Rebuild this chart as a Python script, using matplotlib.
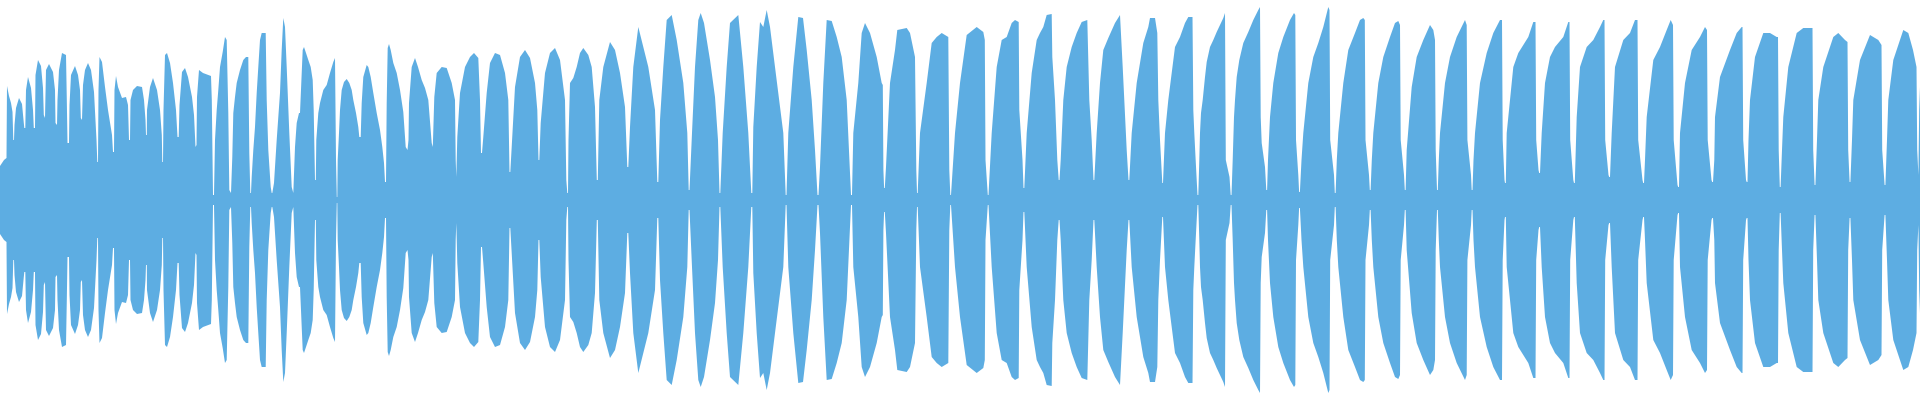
import matplotlib
matplotlib.use("Agg")
import matplotlib.pyplot as plt
import numpy as np

# waveform peak envelope, one line per lobe (position in samples, peak amplitude)
pos = [
    0, 4, 6.5, 7, 9, 11, 12.5, 13.3, 14,
    14.5, 16, 19, 22, 23.7, 24.3, 25.3,
    26, 28, 31, 33, 33.8, 35,
    35.5, 38, 41, 43, 43.8, 45,
    46, 49, 53, 55, 55.5, 57,
    57.5, 59, 62, 66, 66.8, 67.5, 69,
    69.5, 71, 75, 78, 80, 80.8, 82,
    83, 85, 88, 91, 94, 96.5, 97.3, 98,
    98.5, 99.5, 102, 105, 108, 112, 113, 114,
    114.5, 116, 118, 122, 126, 128, 129, 130,
    130.5, 133, 137, 142, 144, 145.5, 146, 146.8,
    147, 150, 153, 157, 160, 161.8, 162.3, 163,
    163.5, 165, 167, 170, 173, 176, 177.5, 178.7,
    179.5, 182, 185, 188, 192, 194, 195.5, 196.5,
    197, 199, 203, 211, 211.8, 213, 214,
    215, 216.7, 218.3, 220, 222.7, 225, 226.7, 228.3, 229.3, 231,
    232.3, 233.3, 235, 236.7, 240, 243.3, 246, 248.3, 249.3, 250.3, 251,
    251.7, 253.3, 255, 256.7, 258.3, 260, 261.7, 265.7, 266.7, 268.3, 270.7, 271.7, 272.3,
    274, 276.7, 280, 281.7, 283.3, 285, 286.7, 289.3, 291.7, 293.3,
    295, 296.7, 299, 300, 302.7, 304, 306, 308.3, 310.7, 312.7, 313.7, 315, 315.8,
    316.3, 318.3, 320, 323.3, 326.7, 330, 333.3, 335, 336, 336.8, 337.3,
    337.7, 339, 340, 341.7, 344, 346.7, 349.3, 351.7, 353.3, 356, 358.3, 359.3, 360.7,
    361.7, 363.3, 366.7, 368.3, 370.7, 373.3, 376.7, 380, 382.3, 384, 385, 386,
    386.7, 387.7, 389, 390.7, 393.3, 396.7, 400, 403.3, 405.7, 407.5,
    408.5, 409, 411.7, 415, 418, 421.7, 425, 428.3, 431.7, 432.8,
    434.3, 436.7, 441.7, 446.7, 451.7, 455, 455.7, 456.3,
    457.3, 460, 465, 470, 474, 478.3, 480, 481, 482,
    483.3, 486.7, 490, 495, 500, 505, 508.3, 509.5, 510.3,
    511.7, 515, 520, 525, 530, 535, 537.3, 538.5, 539.3,
    540.7, 545, 550, 555, 560, 565, 566.3, 567.3, 568,
    568.5, 570, 573.3, 576.7, 580, 583.3, 588.3, 591.7, 595, 596.8, 597.8,
    599.3, 603.3, 610, 615, 620, 625, 627.3, 628.3,
    630, 633.3, 638.3, 643.3, 648.3, 655, 657.3, 658.3,
    660, 663.3, 666.7, 671.7, 676.7, 683.3, 687.3, 688.7, 689.5,
    692, 695, 698.3, 700.7, 704, 710, 715, 718, 719.5, 720.3,
    722.7, 726.7, 730, 738.3, 743.3, 748.3, 751.3, 752.3,
    753.3, 756.7, 760, 763.3, 766.7, 770, 775, 783.3, 785.7, 786.5,
    788.3, 793.3, 798.3, 803, 806.7, 811.7, 815, 817.5, 818.5,
    820, 823.3, 826.7, 831.7, 836.7, 841.7, 846.7, 850, 851, 852,
    853.3, 858.3, 861.7, 865, 870, 876.7, 881.7, 882.8, 883.4, 884.1, 884.8,
    886, 890, 895, 897.3, 906.7, 910, 915, 916.3, 917, 917.7,
    920, 926.7, 931.7, 936.7, 941.7, 948.3, 949.3, 950.3, 951,
    955, 960, 966.7, 976.7, 983.3, 984.8, 985.5, 987.8, 988.5,
    991.7, 996.7, 1001.7, 1006.7, 1011.7, 1015, 1018.7, 1019.3, 1022.5, 1023.5, 1024.3,
    1026.7, 1031.7, 1036.7, 1040, 1043.3, 1046.7, 1051.7, 1052.3, 1055, 1057.3, 1058.7, 1059.5,
    1060.7, 1063.3, 1066.7, 1071.7, 1076.7, 1081.7, 1087.3, 1089.3, 1091.7, 1093.5, 1094.3,
    1096.7, 1100, 1103.3, 1108.3, 1115, 1120, 1122.7, 1126.7, 1128.5, 1129.3,
    1131.7, 1136.7, 1143.3, 1148.3, 1150, 1155, 1157.3, 1158.3, 1160, 1162.3, 1163,
    1165, 1168.3, 1171.7, 1175, 1180, 1185, 1188.3, 1192.5, 1193.3, 1194.3, 1195.3, 1196.7, 1197.5, 1198.3,
    1199.3, 1200, 1201, 1202.7, 1204, 1205, 1206.7, 1210, 1213.3, 1216.7, 1220, 1223.3, 1225, 1225.8, 1229.5, 1230.7, 1231.5,
    1232.7, 1234, 1235, 1236.7, 1239.3, 1243.3, 1248.3, 1253.3, 1258.3, 1260, 1260.7, 1261.7, 1265, 1266.3, 1267.1,
    1268, 1270, 1273.3, 1278.3, 1283.3, 1290, 1294, 1295.3, 1296, 1298.3, 1299.1, 1299.9,
    1301.5, 1303.3, 1308.3, 1313.3, 1318.3, 1323.3, 1328.3, 1329.5, 1330.2, 1334, 1334.8, 1335.6,
    1336.8, 1338.3, 1343.3, 1348.3, 1355, 1360, 1363.3, 1364.8, 1365.5, 1369, 1369.8, 1370.6,
    1371.8, 1373.3, 1378.3, 1383.3, 1390, 1395, 1398.3, 1400, 1400.7, 1404, 1404.8, 1405.6,
    1406.7, 1411.7, 1416.7, 1423.3, 1430, 1433.3, 1435, 1435.7, 1437, 1437.8,
    1438.8, 1440, 1445, 1450, 1456.7, 1465, 1466.7, 1467.4, 1471, 1471.7, 1472.5,
    1473.5, 1475, 1480, 1486.7, 1493.3, 1500, 1502, 1502.7, 1504.5, 1505, 1505.8,
    1506.7, 1510, 1513.3, 1518.3, 1523.3, 1528.3, 1533.3, 1535.5, 1536.2, 1538.5, 1539.2, 1540,
    1541.7, 1545, 1550, 1555, 1563.3, 1568.3, 1569.5, 1570.2, 1573.3, 1574, 1574.8,
    1576.7, 1580, 1586.7, 1593.3, 1600, 1603.3, 1604.5, 1605.2, 1608.5, 1609.2, 1610,
    1611.7, 1615, 1623.3, 1630, 1635, 1637.5, 1638.2, 1642.5, 1643.2, 1644,
    1645, 1646.7, 1653.3, 1660, 1666.7, 1670.7, 1673, 1673.7, 1677.5, 1678.2, 1679,
    1680, 1685, 1691.7, 1700, 1705, 1707, 1707.7, 1711.5, 1712.2, 1713,
    1714.3, 1715, 1720, 1730, 1736.7, 1741.7, 1742.5, 1743.2, 1746, 1746.7, 1747.5,
    1748.5, 1750, 1755, 1763.3, 1770, 1776.7, 1778, 1778.7, 1779.8, 1780.6,
    1782, 1783.3, 1788.3, 1796.7, 1803.3, 1811.7, 1812.5, 1813.2, 1814.6, 1815.4,
    1817, 1818.3, 1823.3, 1833.3, 1838.3, 1845, 1847.5, 1848.2, 1849.6, 1850.4,
    1852, 1853.3, 1860, 1870, 1878.3, 1881.5, 1882.2, 1884.6, 1885.4,
    1887, 1888.3, 1893.3, 1903.3, 1908.3, 1913, 1916.5, 1917.2, 1918.4, 1919.2, 1920,
]

amp = [
    34, 40, 42, 114, 104, 97, 88, 60, 60,
    75, 92, 102, 96, 78, 72, 72,
    110, 123, 112, 90, 72, 72,
    125, 140, 134, 112, 85, 82,
    130, 136, 128, 110, 77, 75,
    100, 130, 147, 145, 100, 57, 57,
    95, 125, 134, 125, 110, 82, 80,
    115, 130, 137, 130, 108, 60, 38, 38,
    110, 143, 138, 113, 90, 65, 48, 48,
    110, 124, 113, 102, 103, 95, 60, 60,
    100, 110, 114, 113, 100, 80, 65, 65,
    90, 113, 122, 110, 90, 65, 38, 38,
    90, 145, 147, 137, 117, 90, 63, 63,
    95, 128, 132, 123, 103, 85, 53, 55,
    103, 130, 127, 124, 100, 5, 5,
    60, 90, 110, 133, 148, 163, 160, 87, 10, 7,
    43, 87, 103, 117, 130, 140, 143, 143, 47, 7, 7,
    23, 50, 73, 107, 133, 160, 167, 167, 100, 50, 13, 7, 7,
    17, 60, 107, 150, 182, 173, 133, 67, 13, 7,
    53, 77, 87, 87, 150, 153, 147, 140, 133, 120, 90, 20, 20,
    60, 87, 97, 110, 115, 127, 138, 142, 40, 3, 3,
    40, 67, 90, 110, 118, 121, 117, 110, 100, 87, 73, 63, 63,
    97, 123, 135, 133, 123, 107, 87, 70, 53, 37, 18, 18,
    97, 152, 156, 150, 137, 127, 110, 88, 53, 50,
    60, 97, 133, 142, 133, 120, 112, 100, 57, 53,
    103, 127, 133, 132, 117, 100, 40, 23,
    63, 107, 133, 143, 147, 142, 100, 47, 47,
    63, 107, 137, 147, 145, 127, 100, 28, 28,
    53, 113, 143, 150, 142, 117, 90, 40, 40,
    77, 127, 147, 152, 140, 100, 20, 7, 7,
    60, 117, 122, 133, 147, 152, 145, 133, 93, 20, 20,
    100, 133, 158, 150, 127, 93, 33, 33,
    73, 133, 173, 153, 133, 90, 18, 18,
    80, 133, 180, 185, 160, 117, 67, 10, 10,
    67, 133, 180, 187, 177, 140, 103, 60, 7, 7,
    67, 133, 177, 185, 133, 67, 7, 7,
    73, 133, 178, 173, 190, 173, 133, 67, 5, 5,
    67, 133, 183, 182, 150, 100, 50, 5, 5,
    33, 117, 180, 179, 163, 143, 100, 27, 5, 5,
    67, 117, 167, 177, 167, 143, 117, 115, 30, 12, 12,
    33, 117, 150, 170, 172, 167, 143, 30, 7, 7,
    67, 117, 157, 163, 167, 163, 30, 5, 5,
    67, 117, 165, 173, 168, 160, 40, 5, 5,
    67, 133, 160, 163, 177, 180, 178, 90, 40, 12, 12,
    67, 127, 160, 167, 173, 185, 186, 143, 100, 40, 20, 20,
    40, 100, 133, 153, 167, 178, 180, 100, 60, 20, 20,
    67, 117, 150, 162, 177, 185, 133, 50, 20, 20,
    67, 117, 157, 173, 182, 182, 167, 100, 60, 17, 17,
    67, 100, 127, 153, 163, 177, 183, 183, 90, 67, 47, 20, 5, 5,
    40, 67, 87, 100, 113, 123, 138, 153, 160, 168, 175, 182, 187, 40, 23, 5, 5,
    40, 83, 100, 123, 140, 157, 168, 180, 190, 193, 83, 57, 33, 10, 10,
    40, 83, 117, 147, 163, 180, 187, 185, 60, 25, 8, 8,
    40, 67, 117, 143, 157, 173, 193, 190, 60, 25, 7, 7,
    40, 67, 117, 150, 167, 180, 182, 180, 60, 25, 10, 10,
    40, 67, 117, 143, 163, 177, 179, 175, 60, 25, 10, 10,
    50, 113, 143, 160, 175, 170, 160, 50, 10, 10,
    40, 67, 117, 143, 163, 180, 175, 60, 25, 10, 10,
    40, 67, 117, 147, 167, 180, 180, 60, 20, 17, 17,
    67, 100, 133, 147, 155, 163, 178, 178, 60, 30, 27, 27,
    67, 117, 143, 153, 163, 178, 178, 60, 20, 17, 17,
    83, 133, 153, 160, 173, 180, 180, 60, 25, 23, 23,
    67, 133, 160, 167, 180, 180, 60, 20, 17, 17,
    40, 83, 140, 153, 170, 180, 175, 60, 15, 13, 13,
    67, 117, 150, 163, 173, 170, 60, 20, 18, 18,
    40, 83, 123, 150, 167, 173, 173, 60, 20, 18, 18,
    60, 100, 143, 167, 167, 163, 163, 50, 13, 13,
    50, 83, 133, 167, 172, 172, 172, 50, 15, 15,
    60, 100, 133, 163, 167, 160, 158, 50, 18, 18,
    60, 100, 140, 165, 160, 155, 50, 15, 15,
    60, 100, 140, 170, 167, 150, 133, 50, 25, 90, 113,
]

pos = np.array(pos)
amp = np.array(amp)

fig = plt.figure(figsize=(19.2, 4), dpi=100)
ax = fig.add_axes([0, 0, 1, 1])
ax.fill_between(pos, -amp, amp, color="#5dade2", linewidth=0)
ax.set_xlim(0, 1920)
ax.set_ylim(-200, 200)
ax.axis("off")

fig.savefig("out.png", dpi=100, facecolor="white")
